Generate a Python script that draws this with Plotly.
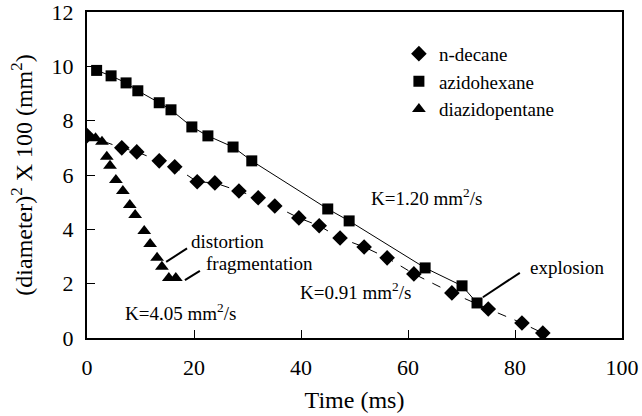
import plotly.graph_objects as go

# n-decane (diamonds)
decane_t = [0.0, 6.5, 9.3, 13.5, 16.4, 20.6, 23.9, 28.4, 32.0, 35.1, 39.6, 43.4, 47.3, 51.8, 56.1, 61.1, 68.2, 75.0, 81.3, 85.2]
decane_d2 = [7.45, 7.0, 6.85, 6.52, 6.30, 5.75, 5.71, 5.41, 5.16, 4.86, 4.42, 4.13, 3.68, 3.35, 2.95, 2.36, 1.66, 1.07, 0.55, 0.18]

# azidohexane (squares)
azido_t = [1.8, 4.5, 7.3, 9.5, 13.5, 15.7, 19.6, 22.6, 27.3, 30.8, 45.0, 49.0, 63.2, 70.1, 72.9]
azido_d2 = [9.85, 9.65, 9.39, 9.10, 8.66, 8.40, 7.77, 7.44, 7.03, 6.52, 4.75, 4.31, 2.58, 1.92, 1.29]

# diazidopentane (triangles)
diazido_t = [0.5, 1.6, 2.8, 3.7, 4.3, 5.4, 6.7, 8.0, 9.0, 10.7, 11.8, 13.1, 14.0, 15.3, 16.6]
diazido_d2 = [7.4, 7.35, 7.22, 6.67, 6.34, 5.82, 5.41, 4.90, 4.53, 3.94, 3.46, 2.95, 2.62, 2.21, 2.21]

x_ticks = [0, 20, 40, 60, 80, 100]
y_ticks = [0, 2, 4, 6, 8, 10, 12]

FONT = "Liberation Serif, Times New Roman, serif"

fig = go.Figure()
# connecting lines (no legend entry)
fig.add_trace(go.Scatter(
    x=decane_t, y=decane_d2, mode="lines", showlegend=False, hoverinfo="skip",
    line=dict(color="black", width=1, dash="dash"),
))
fig.add_trace(go.Scatter(
    x=azido_t, y=azido_d2, mode="lines", showlegend=False, hoverinfo="skip",
    line=dict(color="black", width=1),
))
# markers
fig.add_trace(go.Scatter(
    x=decane_t, y=decane_d2, name="n-decane", mode="markers",
    marker=dict(symbol="diamond", size=12, color="black"),
))
fig.add_trace(go.Scatter(
    x=azido_t, y=azido_d2, name="azidohexane", mode="markers",
    marker=dict(symbol="square", size=11, color="black"),
))
fig.add_trace(go.Scatter(
    x=diazido_t, y=diazido_d2, name="diazidopentane", mode="markers",
    marker=dict(symbol="triangle-up", size=12, color="black"),
))

ann_font = dict(family=FONT, size=19, color="black")
annotations = [
    dict(x=63.5, y=5.2, text="K=1.20 mm<sup>2</sup>/s", showarrow=False, font=ann_font),
    dict(x=50.1, y=1.73, text="K=0.91 mm<sup>2</sup>/s", showarrow=False, font=ann_font),
    dict(x=17.4, y=0.96, text="K=4.05 mm<sup>2</sup>/s", showarrow=False, font=ann_font),
    dict(x=26.3, y=3.54, text="distortion", showarrow=False, font=ann_font),
    dict(x=32.2, y=2.76, text="fragmentation", showarrow=False, font=ann_font),
    dict(x=89.7, y=2.58, text="explosion", showarrow=False, font=ann_font),
]

pointers = [
    (14.8, 2.8, 18.7, 3.3),
    (18.3, 2.13, 21.1, 2.47),
    (74.0, 1.5, 80.9, 2.4),
]
for x0, y0, x1, y1 in pointers:
    fig.add_shape(type="line", x0=x0, y0=y0, x1=x1, y1=y1, xref="x", yref="y",
                  line=dict(color="black", width=2))

fig.update_layout(
    width=642, height=416,
    margin=dict(l=87, r=20, t=12, b=78),
    paper_bgcolor="white", plot_bgcolor="white",
    font=dict(family=FONT, color="black"),
    annotations=annotations,
    showlegend=True,
    legend=dict(x=0.583, y=0.93, xanchor="left", yanchor="top",
                font=dict(family=FONT, size=19, color="black"),
                bgcolor="rgba(0,0,0,0)"),
    xaxis=dict(range=[0, 100], tickvals=x_ticks, ticks="inside", ticklen=8,
               tickcolor="black", showline=True, linecolor="black", linewidth=2,
               mirror=True, showgrid=False, zeroline=False, automargin=False,
               ticklabeloverflow="allow", ticklabelstandoff=9,
               tickfont=dict(family=FONT, size=22, color="black"),
               title=dict(text="Time (ms)", font=dict(family=FONT, size=24, color="black"),
                          standoff=12)),
    yaxis=dict(range=[0, 12], tickvals=y_ticks, ticks="inside", ticklen=8,
               tickcolor="black", showline=True, linecolor="black", linewidth=2,
               mirror=True, showgrid=False, zeroline=False, automargin=False,
               ticklabeloverflow="allow", ticklabelstandoff=7,
               tickfont=dict(family=FONT, size=22, color="black"),
               title=dict(text="(diameter)<sup>2</sup> X 100 (mm<sup>2</sup>)",
                          font=dict(family=FONT, size=24, color="black"), standoff=12)),
)

fig.write_html("out.html")
